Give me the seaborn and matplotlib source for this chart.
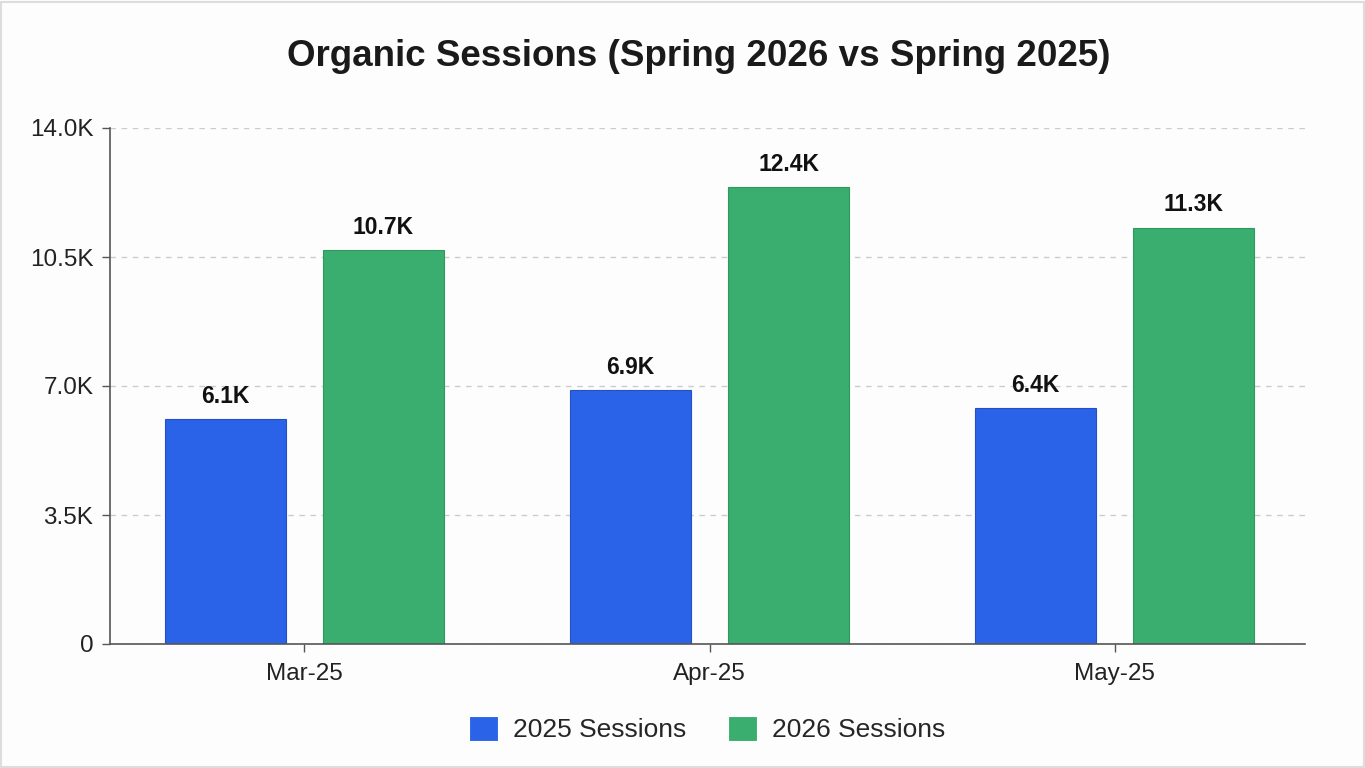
import pandas as pd
import seaborn as sns
import matplotlib.pyplot as plt
from matplotlib.ticker import FuncFormatter
from matplotlib.patches import Rectangle

# data
months = ['Mar-25', 'Apr-25', 'May-25']
sessions_2025 = [6100, 6900, 6400]
sessions_2026 = [10700, 12400, 11300]
series_names = ['2025 Sessions', '2026 Sessions']
y_ticks = [0, 3500, 7000, 10500, 14000]

df = pd.DataFrame({
    'Month': months * 2,
    'Sessions': sessions_2025 + sessions_2026,
    'Series': [series_names[0]] * 3 + [series_names[1]] * 3,
})

sns.set_theme(style='white')
plt.rcParams['font.family'] = ['Liberation Sans', 'DejaVu Sans']

fig = plt.figure(figsize=(13.65, 7.68), dpi=100, facecolor='#fdfdfd')
ax = fig.add_axes([110 / 1365, 1 - 644 / 768, (1305 - 110) / 1365, (644 - 128) / 768])
ax.set_facecolor('#fdfdfd')

palette = {series_names[0]: '#2b63e8', series_names[1]: '#3aae6e'}
sns.barplot(data=df, x='Month', y='Sessions', hue='Series', palette=palette,
            width=0.78, gap=0.23, saturation=1, linewidth=0.8,
            ax=ax, legend=True)

# darker outline per series + value labels
for bar_cont, ec in zip(ax.containers, ['#2350c4', '#2f9a5e']):
    for p in bar_cont:
        p.set_edgecolor(ec)
    ax.bar_label(bar_cont, labels=[f'{v / 1000:.1f}K' for v in bar_cont.datavalues],
                 padding=8, fontsize=16.5, fontweight='bold', color='#111111')

ax.set_ylim(0, 14000)
ax.set_xlim(-0.48, 2.47)
ax.set_yticks(y_ticks)
ax.yaxis.set_major_formatter(FuncFormatter(lambda v, _: '0' if v == 0 else f'{v / 1000:.1f}K'))
ax.yaxis.grid(True, linestyle=(0, (4, 4)), color='#cccccc', linewidth=1)
ax.set_axisbelow(True)
ax.set_xlabel('')
ax.set_ylabel('')

for s in ['top', 'right']:
    ax.spines[s].set_visible(False)
for s in ['left', 'bottom']:
    ax.spines[s].set_color('#555555')
    ax.spines[s].set_linewidth(1.2)
ax.tick_params(axis='both', which='major', labelsize=17.5, labelcolor='#222222',
               color='#555555', length=6, width=1, left=True, bottom=True)
ax.tick_params(axis='x', pad=8)
ax.tick_params(axis='y', pad=6)

fig.text(699 / 1365, 1 - 57 / 768, 'Organic Sessions (Spring 2026 vs Spring 2025)',
         ha='center', va='center', fontsize=26.5, fontweight='bold', color='#1a1a1a')

handles, labels = ax.get_legend_handles_labels()
ax.get_legend().remove()
fig.legend(handles, labels, loc='center', bbox_to_anchor=(707 / 1365, 1 - 729 / 768),
           ncol=2, frameon=False, fontsize=19, handlelength=1.1, handleheight=1.1,
           handletextpad=0.55, columnspacing=1.6)

# faint frame around the image
fig.patches.append(Rectangle((0.001, 0.001), 0.998, 0.997, transform=fig.transFigure,
                             fill=False, edgecolor='#dddddd', linewidth=1.5))

fig.savefig('out.png', dpi=100, facecolor=fig.get_facecolor())
